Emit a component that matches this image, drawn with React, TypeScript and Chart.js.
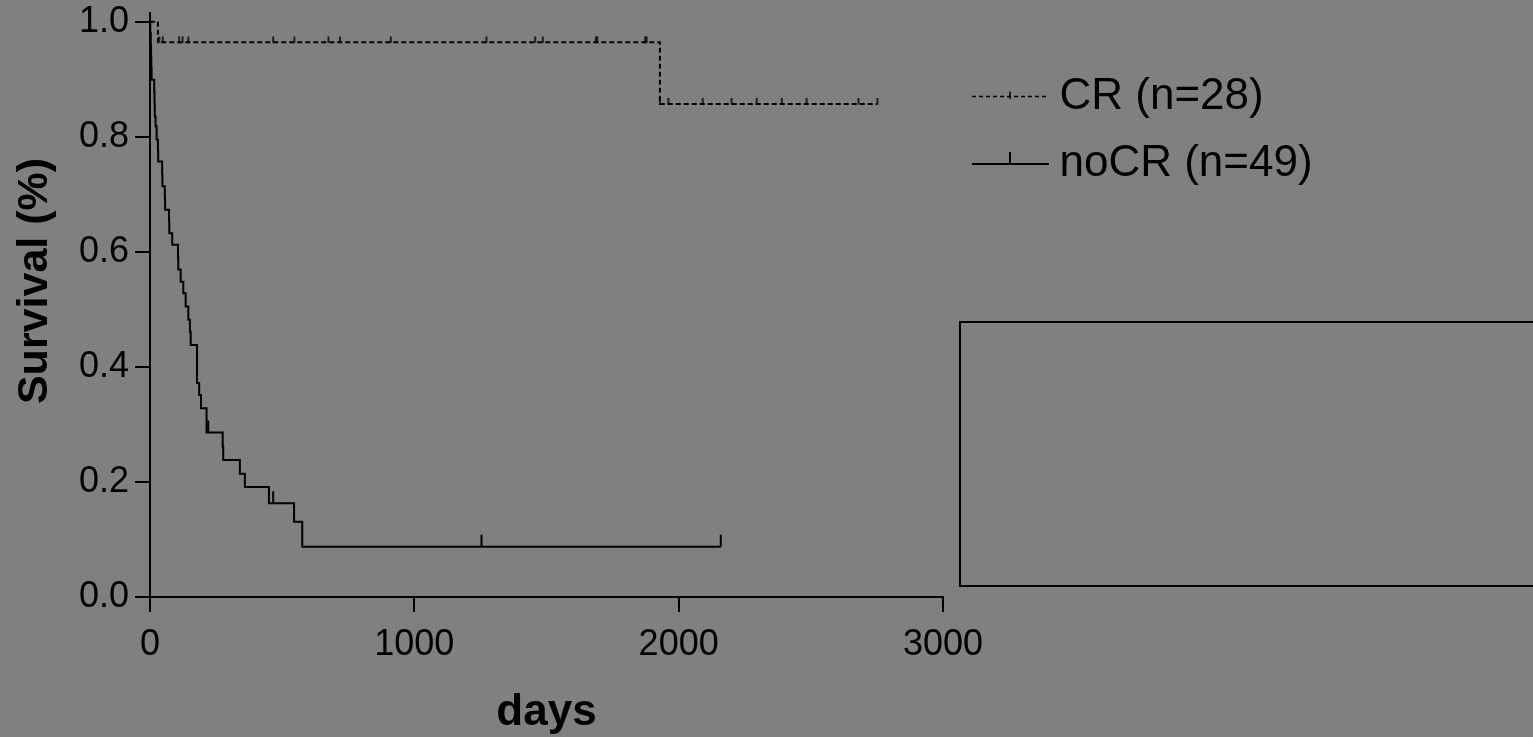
import React, { useEffect, useRef } from 'react';
import { Chart, registerables } from 'chart.js';

Chart.register(...registerables);

const W = 1533;
const H = 737;
const FAMILY = "'Liberation Sans', Arial, Helvetica, sans-serif";

// Kaplan-Meier curve: CR group
const crDays = [0, 30, 1929, 2752];
const crSurv = [1.0, 0.964, 0.857, 0.857];
// CR censored observations
const crCensorDays = [35, 48, 110, 123, 145, 466, 546, 675, 719, 911, 1273, 1457, 1486, 1687, 1692, 1873, 1879,
  1929, 1961, 2091, 2200, 2295, 2390, 2484, 2680, 2752];
const crCensorSurv = [0.964, 0.964, 0.964, 0.964, 0.964, 0.964, 0.964, 0.964, 0.964, 0.964, 0.964, 0.964, 0.964,
  0.964, 0.964, 0.964, 0.964, 0.857, 0.857, 0.857, 0.857, 0.857, 0.857, 0.857, 0.857, 0.857];

// Kaplan-Meier curve: noCR group
const noCRDays = [0, 1, 3, 4, 5, 6, 16, 17, 18, 21, 25, 30, 31, 46, 47, 56, 57, 72, 73, 84, 106, 107, 116, 126,
  135, 145, 151, 154, 178, 186, 193, 214, 275, 277, 340, 359, 450, 545, 576, 2159];
const noCRSurv = [1, 0.98, 0.96, 0.94, 0.92, 0.899, 0.878, 0.857, 0.835, 0.818, 0.795, 0.776, 0.757, 0.735, 0.714,
  0.694, 0.673, 0.653, 0.632, 0.612, 0.59, 0.569, 0.548, 0.528, 0.505, 0.482, 0.461, 0.438, 0.372, 0.351, 0.328,
  0.286, 0.261, 0.238, 0.214, 0.191, 0.163, 0.131, 0.0875, 0.0875];
// noCR censored observations
const noCRCensorDays = [220, 466, 1254, 2159];
const noCRCensorSurv = [0.286, 0.163, 0.0875, 0.0875];

const seriesLabels = ['CR (n=28)', 'noCR (n=49)'];
const xTicks = [0, 1000, 2000, 3000];
const yTicks = [0, 0.2, 0.4, 0.6, 0.8, 1.0];
const xTitle = 'days';
const yTitle = 'Survival (%)';

function makeCanvas(w: number, h: number, draw: (c: CanvasRenderingContext2D) => void) {
  const cv = document.createElement('canvas');
  cv.width = w;
  cv.height = h;
  const c = cv.getContext('2d')!;
  draw(c);
  return cv;
}

export default function App() {
  const ref = useRef<HTMLCanvasElement | null>(null);

  useEffect(() => {
    document.body.style.margin = '0';
    document.body.style.background = '#808080';
    const canvas = ref.current!;

    // censor tick images (upward ticks)
    const crTick = makeCanvas(4, 14, (c) => {
      c.strokeStyle = '#000';
      c.lineWidth = 1.5;
      c.beginPath();
      c.moveTo(2, 1);
      c.lineTo(2, 7.5);
      c.stroke();
    });
    const noCRTick = makeCanvas(4, 26, (c) => {
      c.strokeStyle = '#000';
      c.lineWidth = 2;
      c.beginPath();
      c.moveTo(2, 1);
      c.lineTo(2, 13);
      c.stroke();
    });

    const plotRight = 943;
    const padRight = W - plotRight;

    const decorPlugin = {
      id: 'decor',
      afterDraw(chart: any) {
        const ctx = chart.ctx;
        // y axis title
        ctx.save();
        ctx.translate(46.5, 281);
        ctx.rotate(-Math.PI / 2);
        ctx.font = `bold 43px ${FAMILY}`;
        ctx.fillStyle = '#000';
        ctx.textAlign = 'center';
        ctx.textBaseline = 'alphabetic';
        ctx.fillText(yTitle, 0, 0);
        ctx.restore();

        // legend
        ctx.save();
        ctx.strokeStyle = '#000';
        // CR sample (dashed, with censor tick)
        ctx.lineWidth = 1.5;
        ctx.setLineDash([4, 3]);
        ctx.beginPath();
        ctx.moveTo(972, 96.5);
        ctx.lineTo(1047, 96.5);
        ctx.stroke();
        ctx.setLineDash([]);
        ctx.beginPath();
        ctx.moveTo(1010, 91.5);
        ctx.lineTo(1010, 99);
        ctx.stroke();
        // noCR sample (solid, with censor tick)
        ctx.lineWidth = 2;
        ctx.beginPath();
        ctx.moveTo(972, 164);
        ctx.lineTo(1049, 164);
        ctx.stroke();
        ctx.beginPath();
        ctx.moveTo(1010, 152);
        ctx.lineTo(1010, 164);
        ctx.stroke();
        ctx.font = `44px ${FAMILY}`;
        ctx.fillStyle = '#000';
        ctx.textAlign = 'left';
        ctx.textBaseline = 'middle';
        ctx.fillText(seriesLabels[0], 1059.5, 96.7);
        ctx.fillText(seriesLabels[1], 1059.5, 163.7);
        ctx.restore();

        // empty frame at right
        ctx.save();
        ctx.strokeStyle = '#000';
        ctx.lineWidth = 2;
        ctx.strokeRect(960, 322, 700, 264);
        ctx.restore();
      },
    };

    const chart = new Chart(canvas, {
      type: 'line',
      data: {
        datasets: [
          {
            label: seriesLabels[0],
            data: crDays.map((d, i) => ({ x: d, y: crSurv[i] })),
            borderColor: '#000',
            borderWidth: 2,
            borderDash: [5, 3],
            stepped: 'before',
            pointRadius: 0,
            fill: false,
          },
          {
            label: seriesLabels[1],
            data: noCRDays.map((d, i) => ({ x: d, y: noCRSurv[i] })),
            borderColor: '#000',
            borderWidth: 2,
            stepped: 'before',
            pointRadius: 0,
            fill: false,
          },
          {
            label: 'CR censored',
            data: crCensorDays.map((d, i) => ({ x: d, y: crCensorSurv[i] })),
            showLine: false,
            pointStyle: crTick as any,
            pointRadius: 3,
            borderColor: '#000',
            backgroundColor: '#000',
          },
          {
            label: 'noCR censored',
            data: noCRCensorDays.map((d, i) => ({ x: d, y: noCRCensorSurv[i] })),
            showLine: false,
            pointStyle: noCRTick as any,
            pointRadius: 3,
            borderColor: '#000',
            backgroundColor: '#000',
          },
        ],
      },
      options: {
        responsive: false,
        animation: false,
        events: [],
        layout: { padding: { top: 13, left: 0, bottom: 0, right: padRight } },
        plugins: {
          tooltip: { enabled: false },
          legend: { display: false },
        },
        scales: {
          x: {
            type: 'linear',
            min: 0,
            max: 3000,
            afterBuildTicks: (s: any) => {
              s.ticks = xTicks.map((v) => ({ value: v }));
            },
            afterFit: (s: any) => {
              s.paddingLeft = 0;
              s.paddingRight = 0;
            },
            ticks: {
              callback: (v: any) => String(v),
              font: { family: FAMILY, size: 36 },
              color: '#000',
              padding: 11,
              maxRotation: 0,
              autoSkip: false,
            },
            grid: { drawOnChartArea: false, drawTicks: true, tickLength: 15, color: '#000', lineWidth: 2 },
            border: { display: true, color: '#000', width: 2 },
            title: {
              display: true,
              text: xTitle,
              color: '#000',
              font: { family: FAMILY, size: 44, weight: 'bold', lineHeight: 1 },
              padding: { top: 13.6, bottom: 2.2 },
            },
          },
          y: {
            type: 'linear',
            min: 0,
            max: 1.015,
            afterBuildTicks: (s: any) => {
              s.ticks = yTicks.map((v) => ({ value: v }));
            },
            afterFit: (s: any) => {
              s.width = 150;
              s.paddingTop = 0;
              s.paddingBottom = 0;
            },
            ticks: {
              callback: (v: any) => Number(v).toFixed(1),
              font: { family: FAMILY, size: 36 },
              color: '#000',
              padding: 6,
              autoSkip: false,
            },
            grid: { drawOnChartArea: false, drawTicks: true, tickLength: 15, color: '#000', lineWidth: 2 },
            border: { display: true, color: '#000', width: 2 },
            title: { display: false },
          },
        },
      } as any,
      plugins: [decorPlugin],
    });

    return () => chart.destroy();
  }, []);

  return (
    <div style={{ width: W, height: H, background: '#808080', position: 'relative', overflow: 'hidden' }}>
      <canvas ref={ref} width={W} height={H} style={{ display: 'block', width: W, height: H }} />
    </div>
  );
}
